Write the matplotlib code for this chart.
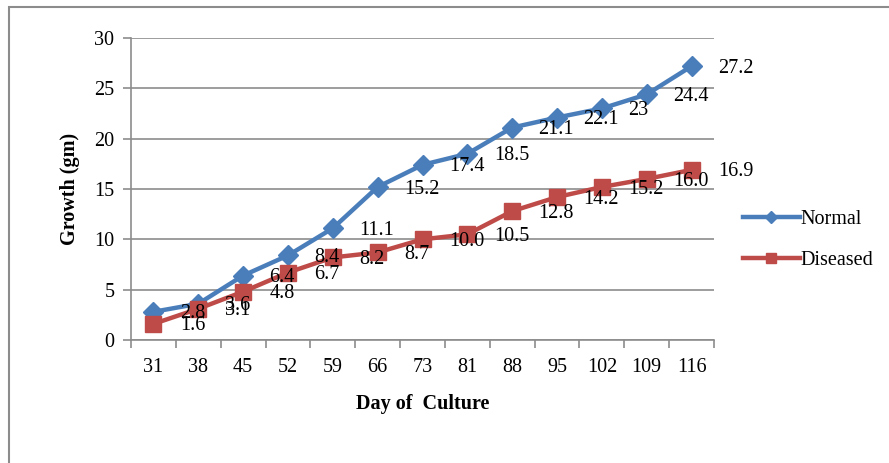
import numpy as np
import matplotlib
matplotlib.use("Agg")
import matplotlib.pyplot as plt
from matplotlib.patches import Rectangle

days = ["31", "38", "45", "52", "59", "66", "73", "81", "88", "95", "102", "109", "116"]
normal = [2.8, 3.6, 6.4, 8.4, 11.1, 15.2, 17.4, 18.5, 21.1, 22.1, 23, 24.4, 27.2]
diseased = [1.6, 3.1, 4.8, 6.7, 8.2, 8.7, 10.0, 10.5, 12.8, 14.2, 15.2, 16.0, 16.9]
normal_lbl = ["2.8", "3.6", "6.4", "8.4", "11.1", "15.2", "17.4", "18.5", "21.1", "22.1", "23", "24.4", "27.2"]
diseased_lbl = ["1.6", "3.1", "4.8", "6.7", "8.2", "8.7", "10.0", "10.5", "12.8", "14.2", "15.2", "16.0", "16.9"]

BLUE = "#4a7ebb"; RED = "#be4b48"; GRID = "#8c8c8c"
FS = 14.5

plt.rcParams["font.family"] = ["Liberation Serif", "DejaVu Serif"]

W, H = 889, 463
fig = plt.figure(figsize=(W / 100, H / 100), dpi=100)
ax = fig.add_axes([131 / W, 1 - 340 / H, 583 / W, 302 / H])

x = np.arange(len(days))
ax.plot(x, normal, color=BLUE, lw=3.2, marker="D", ms=10, label="Normal", zorder=3)
ax.plot(x, diseased, color=RED, lw=3.2, marker="s", ms=11, label="Diseased", zorder=3)

# data labels sit to the right of each point
for xi, v, s in zip(x, normal, normal_lbl):
    ax.annotate(s, (xi, v), xytext=(19, -1.5), textcoords="offset points",
                ha="left", va="center", fontsize=FS, zorder=4)
for xi, v, s in zip(x, diseased, diseased_lbl):
    ax.annotate(s, (xi, v), xytext=(19, -1.5), textcoords="offset points",
                ha="left", va="center", fontsize=FS, zorder=4)

ax.set_xlim(-0.5, len(days) - 0.5)
ax.set_ylim(0, 30)
ax.set_yticks(np.arange(0, 31, 5))
ax.set_xticks(x)
ax.set_xticklabels(days)
ax.set_xticks(np.arange(-0.5, len(days), 1), minor=True)
ax.tick_params(axis="x", which="major", length=0, labelsize=FS, pad=13)
ax.tick_params(axis="x", which="minor", length=6, color=GRID, width=1.2)
ax.tick_params(axis="y", length=6, color=GRID, width=1.2, labelsize=FS, pad=6)
ax.yaxis.grid(True, color=GRID, lw=1.2)
ax.set_axisbelow(True)
for sp in ("top", "right"):
    ax.spines[sp].set_visible(False)
for sp in ("left", "bottom"):
    ax.spines[sp].set_color(GRID)
    ax.spines[sp].set_linewidth(1.2)

ax.set_xlabel("Day of  Culture", fontsize=FS, fontweight="bold", labelpad=12)
ax.set_ylabel("Growth (gm)", fontsize=FS, fontweight="bold", labelpad=10)

fig.legend(loc="center left", bbox_to_anchor=(725 / W, 1 - 240 / H), frameon=False,
           fontsize=FS, handlelength=2.8, handletextpad=0.05, labelspacing=1.1,
           markerscale=0.65)

# chart border
fig.patches.append(Rectangle((9 / W, -0.1), 1.2, 1 - 7 / H + 0.1,
                             transform=fig.transFigure, fill=False,
                             edgecolor="#8c8c8c", lw=1.5))

fig.savefig("out.png", dpi=100)
